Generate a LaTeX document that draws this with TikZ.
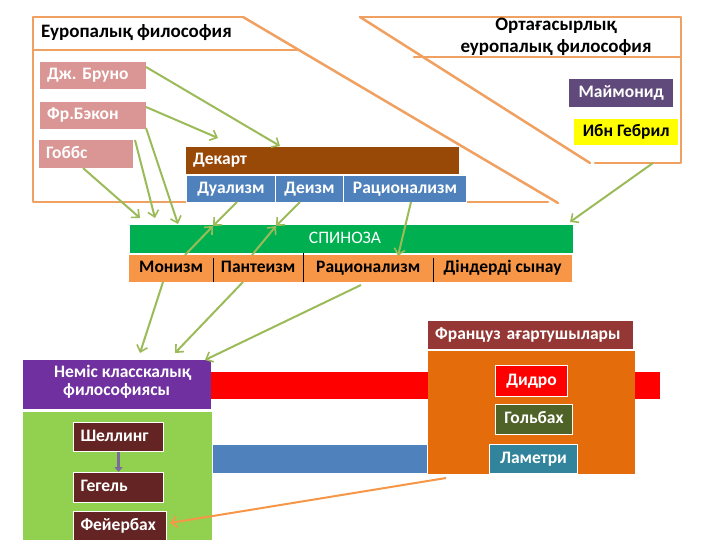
\documentclass[tikz,border=0pt]{standalone}
\usepackage{fontspec}
\setmainfont{Carlito}
\frenchspacing
\usetikzlibrary{arrows.meta}
\definecolor{pinkb}{HTML}{D99694}
\definecolor{brownD}{HTML}{984807}
\definecolor{blueD}{HTML}{4F81BD}
\definecolor{spgreen}{HTML}{00B050}
\definecolor{orng}{HTML}{F79646}
\definecolor{purpM}{HTML}{604A7B}
\definecolor{yel}{HTML}{FFFF00}
\definecolor{purpG}{HTML}{7030A0}
\definecolor{lgreen}{HTML}{92D050}
\definecolor{dbrown}{HTML}{632423}
\definecolor{redb}{HTML}{FF0000}
\definecolor{frhead}{HTML}{953735}
\definecolor{frorange}{HTML}{E46C0A}
\definecolor{olive}{HTML}{4F6228}
\definecolor{teal}{HTML}{31849B}
\definecolor{arrgreen}{HTML}{9BBB59}
\definecolor{framec}{HTML}{F0A060}
\definecolor{sharrow}{HTML}{7B6A9B}
\tikzset{
  bx/.style={anchor=north west, inner sep=0pt, text=white, text height=12pt, text depth=3.5pt, font=\fontsize{17.5}{20}\selectfont\bfseries},
  lt/.style={align=left, text width=#1, inner xsep=7pt},
  frame/.style={draw=framec, line width=2.5pt, line cap=round, line join=round},
  garrow/.style={draw=arrgreen, line width=2pt, -{Straight Barb[length=6pt,width=11pt,line width=1.6pt]}},
  oarrow/.style={draw=orng, line width=2pt, -{Straight Barb[length=6pt,width=11pt,line width=1.6pt]}},
  hdr/.style={inner sep=0pt, font=\fontsize{19}{22}\selectfont\bfseries},
}
\begin{document}
\begin{tikzpicture}[x=1pt,y=-1pt]
\useasboundingbox (0,0) rectangle (720,540);
% frames
\draw[frame] (243,17)--(33,17)--(33,202)--(548,202);
\draw[frame] (243,17)--(558,203);
\draw[frame] (33,50)--(297,50);
\draw[frame] (360,17)--(681,17)--(681,163)--(595,163);
\draw[frame] (360,17)--(590,163);
\draw[frame] (414,57)--(681,57);
\node[hdr, anchor=west] (euhead) at (41,33) {Еуропалық философия};
\node[hdr, align=center] (mhead) at (556,37) {Ортағасырлық\\еуропалық философия};
% left boxes
\node[bx, fill=pinkb, minimum width=106, minimum height=27, lt=92] (bruno) at (40,62) {Дж. Бруно};
\node[bx, fill=pinkb, minimum width=106, minimum height=27, lt=92] (bacon) at (40,102) {Фр.Бэкон};
\node[bx, fill=pinkb, minimum width=94, minimum height=28, lt=80] (hobbes) at (39,140) {Гоббс};
% Descartes
\node[bx, fill=brownD, minimum width=273, minimum height=27, lt=259] (descartes) at (186,147) {Декарт};
\node[bx, fill=blueD, draw=white, line width=1pt, minimum width=89, minimum height=27] (dual) at (186,175) {Дуализм};
\node[bx, fill=blueD, draw=white, line width=1pt, minimum width=68, minimum height=27] (deism) at (275,175) {Деизм};
\node[bx, fill=blueD, draw=white, line width=1pt, minimum width=123, minimum height=27] (ratD) at (343,175) {Рационализм};
% medieval
\node[bx, fill=purpM, minimum width=104, minimum height=28] (maimonid) at (569,79) {Маймонид};
\node[bx, fill=yel, text=black, minimum width=104, minimum height=26] (ibn) at (574,119) {Ибн Гебрил};
% Spinoza
\node[bx, fill=spgreen, minimum width=443, minimum height=28] (spinoza) at (130,225) {};
\node[text=white, inner sep=0pt, font=\fontsize{17.5}{20}\selectfont] (spname) at (345,238) {СПИНОЗА};
\node[bx, fill=orng, text=black, minimum width=443, minimum height=27] (sprow) at (129,255) {};
\node[bx, text=black, minimum width=84, minimum height=27] (mon) at (129,255) {Монизм};
\node[bx, text=black, minimum width=90, minimum height=27] (pan) at (213,255) {Пантеизм};
\node[bx, text=black, minimum width=130, minimum height=27] (ratS) at (303,255) {Рационализм};
\node[bx, text=black, minimum width=139, minimum height=27] (din) at (433,255) {Діндерді сынау};
\draw[black, line width=0.8pt] (213,258)--(213,282) (303,253)--(303,282) (433,258)--(433,282);
% German
\node[bx, fill=purpG, minimum width=188, minimum height=49] (gerhead) at (23,360) {};
\node[bx, anchor=west] (gertext1) at (54,373) {Неміс класскалық};
\node[bx, anchor=west] (gertext2) at (63,391) {философиясы};
\node[bx, fill=lgreen, minimum width=189, minimum height=128] (gerbody) at (23,412) {};
\node[bx, fill=redb, minimum width=449, minimum height=27] (redbar) at (211,372) {};
\node[bx, fill=blueD, minimum width=214, minimum height=28] (bluebar) at (213,445) {};
\node[bx, fill=dbrown, draw=white, line width=1pt, minimum width=90, minimum height=29, lt=76] (schelling) at (73,422) {Шеллинг};
\node[bx, fill=dbrown, draw=white, line width=1pt, minimum width=90, minimum height=30, lt=76] (hegel) at (73,472) {Гегель};
\node[bx, fill=dbrown, draw=white, line width=1pt, minimum width=93, minimum height=30, lt=79] (feuer) at (73,511) {Фейербах};
% French
\node[bx, fill=frhead, minimum width=205, minimum height=28, lt=191] (frhd) at (428,321) {Француз ағартушылары};
\node[bx, fill=frorange, minimum width=207, minimum height=123] (frbody) at (428,351) {};
\node[bx, fill=redb, draw=white, line width=1pt, minimum width=72, minimum height=31] (didro) at (495,365) {Дидро};
\node[bx, fill=olive, draw=white, line width=1pt, minimum width=77, minimum height=30] (golbah) at (495,404) {Гольбах};
\node[bx, fill=teal, draw=white, line width=1pt, minimum width=88, minimum height=29] (lametri) at (489,444) {Ламетри};
% arrow coordinates
\coordinate (a1s) at (146,67);  \coordinate (a1e) at (280,146);
\coordinate (a2s) at (146,107); \coordinate (a2e) at (218,138);
\coordinate (a3s) at (83,168);  \coordinate (a3e) at (140,218);
\coordinate (a4s) at (135,140); \coordinate (a4e) at (155,218);
\coordinate (a5s) at (146,128); \coordinate (a5e) at (178,224);
\coordinate (a6s) at (237,202); \coordinate (x1) at (213,226);
\coordinate (a7s) at (185,255);
\coordinate (a8s) at (300,202); \coordinate (x2) at (276,226);
\coordinate (a9s) at (252,255);
\coordinate (a10s) at (411,202); \coordinate (a10e) at (398,256);
\coordinate (a11s) at (653,163); \coordinate (a11e) at (570,222);
\coordinate (a12s) at (163,282); \coordinate (a12e) at (140,353);
\coordinate (a13s) at (243,282); \coordinate (a13e) at (175,353);
\coordinate (a14s) at (361,285); \coordinate (a14e) at (205,360);
\coordinate (os) at (446,478);  \coordinate (oe) at (170,523);
% arrows
\draw[garrow] (a1s)--(a1e);
\draw[garrow] (a2s)--(a2e);
\draw[garrow] (a3s)--(a3e);
\draw[garrow] (a4s)--(a4e);
\draw[garrow] (a5s)--(a5e);
\draw[garrow] (a6s)--(x1);
\draw[garrow] (a7s)--(x1);
\draw[garrow] (a8s)--(x2);
\draw[garrow] (a9s)--(x2);
\draw[garrow] (a10s)--(a10e);
\draw[garrow] (a11s)--(a11e);
\draw[garrow] (a12s)--(a12e);
\draw[garrow] (a13s)--(a13e);
\draw[garrow] (a14s)--(a14e);
\draw[oarrow] (os)--(oe);
\draw[draw=sharrow, line width=3pt, -{Triangle[length=5pt,width=8pt]}] (schelling.south)--(hegel.north);
\end{tikzpicture}
\end{document}
